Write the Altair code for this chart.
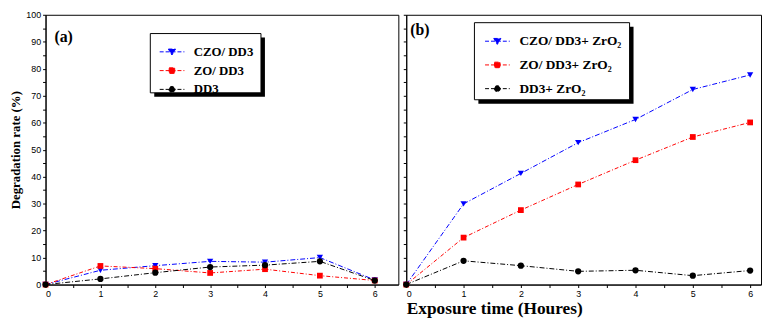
import altair as alt
import pandas as pd

hours = [0, 1, 2, 3, 4, 5, 6]

series_a = ["CZO/ DD3", "ZO/ DD3", "DD3"]
czo_a = [0, 5.3, 7.0, 8.6, 8.3, 10.0, 1.7]
zo_a = [0, 6.9, 5.9, 4.3, 5.7, 3.3, 1.5]
dd3_a = [0, 2.1, 4.4, 6.5, 7.2, 8.6, 1.5]

series_b = ["CZO/ DD3+ ZrO\u2082", "ZO/ DD3+ ZrO\u2082", "DD3+ ZrO\u2082"]
czo_b = [0, 29.9, 41.2, 52.6, 61.2, 72.3, 77.7]
zo_b = [0, 17.4, 27.6, 37.1, 46.1, 54.7, 60.1]
dd3_b = [0, 8.8, 7.0, 4.9, 5.3, 3.3, 5.2]

colors = ["#0000ff", "#ff0000", "#000000"]
dashes = [[5, 2, 1, 2], [4, 2, 1, 2], [5, 2, 1, 2]]
marker_shapes = ["triangle-down", "square", "circle"]
marker_sizes = [40, 34, 40]
# legend symbols: dashed line with a marker in its middle
legend_paths = [
    "M-1,0H5.25M1.2,-0.7L3.0,-0.7L2.1,0.8Z",
    "M-1,0H5.25M1.4,-0.7H2.8V0.7H1.4Z",
    "M-1,0H5.25M1.35,0A0.75,0.75 0 1,0 2.85,0A0.75,0.75 0 1,0 1.35,0Z",
]

SERIF = "Liberation Serif"
SANS = "Liberation Sans"
H = 273


def long_df(series, values):
    rows = []
    for name, vals in zip(series, values):
        for h, v in zip(hours, vals):
            rows.append({"hours": h, "rate": v, "series": name})
    return pd.DataFrame(rows)


def panel(series, values, width, xmax, show_y, x_title, leg, box, label, label_pos):
    df = long_df(series, values)
    x_enc = alt.X(
        "hours:Q",
        scale=alt.Scale(domain=[0, xmax], nice=False, zero=False),
        axis=alt.Axis(
            values=[i * 0.5 for i in range(13)],
            format="~g",
            labelExpr="datum.value % 1 == 0 ? datum.label : ''",
            title=x_title if x_title else None,
            titleFont=SERIF, titleFontSize=17.5, titleFontWeight="bold",
            titleAnchor="start", titlePadding=1, titleColor="black",
            tickSize=3, labelPadding=2, labelFont=SANS, labelFontSize=9,
            grid=False,
        ),
    )
    if show_y:
        y_axis = alt.Axis(
            values=[i * 5 for i in range(21)],
            labelExpr="datum.value % 10 == 0 ? datum.label : ''",
            title="Degradation rate (%)",
            titleFont=SERIF, titleFontSize=13, titleFontWeight="bold",
            titlePadding=3, titleColor="black",
            tickSize=3, labelPadding=2, labelFont=SANS, labelFontSize=9,
            grid=False,
        )
    else:
        y_axis = alt.Axis(values=[i * 5 for i in range(21)], labels=False,
                          title=None, tickSize=3, grid=False)
    y_enc = alt.Y("rate:Q", scale=alt.Scale(domain=[0, 100], nice=False), axis=y_axis)

    legend = alt.Legend(
        orient="none", legendX=leg["x"], legendY=leg["y"], title=None,
        padding=0, rowPadding=leg["row"], symbolSize=64, symbolStrokeWidth=1,
        symbolDash=[4, 2], symbolOpacity=1, labelOffset=24,
        labelFont=SERIF, labelFontSize=leg["fs"], labelFontWeight="bold",
        labelColor="black",
    )

    base = alt.Chart(df)
    one = pd.DataFrame({"k": [0]})
    x0, y0, x1, y1 = box
    shadow = alt.Chart(one).mark_rect(color="black").encode(
        x=alt.value(x0 + 4), x2=alt.value(x1 + 4), y=alt.value(y0 + 4), y2=alt.value(y1 + 4),
    )
    frame = alt.Chart(one).mark_rect(fill="white", stroke="black", strokeWidth=1).encode(
        x=alt.value(x0), x2=alt.value(x1), y=alt.value(y0), y2=alt.value(y1),
    )
    layers = [shadow, frame]
    for name, col, dsh in zip(series, colors, dashes):
        layers.append(
            base.transform_filter(alt.datum.series == name)
            .mark_line(strokeWidth=1, strokeDash=dsh, color=col)
            .encode(x=x_enc, y=y_enc)
        )
    for name, col, shp, sz in zip(series, colors, marker_shapes, marker_sizes):
        layers.append(
            base.transform_filter(alt.datum.series == name)
            .mark_point(filled=True, shape=shp, size=sz, opacity=1, color=col)
            .encode(x=x_enc, y=y_enc)
        )
    # legend-only layer: no rows drawn, entries come from the explicit domains
    leg_layer = base.transform_filter("false").mark_point(filled=True).encode(
        x=x_enc, y=y_enc,
        fill=alt.Fill("series:N", scale=alt.Scale(domain=series, range=colors), legend=legend),
        stroke=alt.Stroke("series:N", scale=alt.Scale(domain=series, range=colors), legend=legend),
        shape=alt.Shape("series:N", scale=alt.Scale(domain=series, range=legend_paths), legend=legend),
    )
    layers.append(leg_layer)
    text = alt.Chart(pd.DataFrame({"t": [label]})).mark_text(
        font=SERIF, fontSize=16, fontWeight="bold", align="left", baseline="middle", color="black"
    ).encode(x=alt.value(label_pos[0]), y=alt.value(label_pos[1]), text="t:N")
    layers.append(text)

    return alt.layer(*layers).properties(width=width, height=H)


left = panel(
    series_a, [czo_a, zo_a, dd3_a], 357, 6.43, True, None,
    {"x": 113, "y": 31, "row": 5, "fs": 13},
    (106, 19, 218, 79), "(a)", (9, 23),
)
right = panel(
    series_b, [czo_b, zo_b, dd3_b], 359, 6.19, False, "Exposure time (Houres)",
    {"x": 77, "y": 20, "row": 9, "fs": 13.5},
    (69, 8, 226, 86), "(b)", (4, 15),
)

chart = (
    alt.hconcat(left, right, spacing=3)
    .resolve_scale(fill="independent", stroke="independent", shape="independent")
    .resolve_legend(fill="independent", stroke="independent", shape="independent")
    .properties(padding={"left": 1, "top": 0, "right": 0, "bottom": 0}, background="white")
    .configure_view(stroke="black", strokeWidth=1)
    .configure_axis(domainColor="black", tickColor="black", labelColor="black", domainWidth=1)
    .configure_legend(labelFont=SERIF, labelFontWeight="bold", labelColor="black")
)

chart.save("out.html", embed_options={"renderer": "svg", "actions": False})
